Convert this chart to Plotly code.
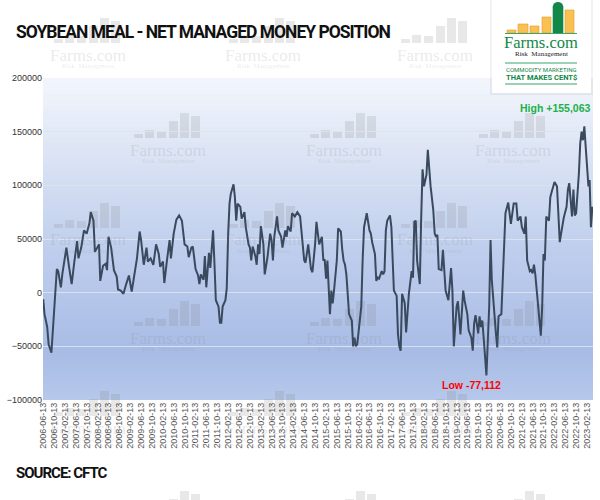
import plotly.graph_objects as go

# --- data ---
report_dates = [
    "2006-06-13", "2006-06-28", "2006-07-28", "2006-08-13", "2006-09-13", "2006-09-28", "2006-10-13",
    "2006-11-13", "2006-11-28", "2006-12-28",
    "2007-01-13", "2007-02-13", "2007-02-28", "2007-03-28", "2007-04-28", "2007-05-28", "2007-06-28",
    "2007-07-13", "2007-08-13", "2007-09-13", "2007-10-13", "2007-11-13", "2007-11-28", "2007-12-28",
    "2008-01-13", "2008-02-28", "2008-03-13", "2008-04-13", "2008-05-13", "2008-05-28", "2008-06-13",
    "2008-07-13", "2008-08-13", "2008-09-13", "2008-09-28", "2008-10-28", "2008-11-28", "2008-12-28",
    "2009-01-28", "2009-02-28", "2009-03-28", "2009-04-28", "2009-05-28", "2009-06-13", "2009-07-13",
    "2009-08-13", "2009-08-28", "2009-09-28", "2009-10-28", "2009-11-28", "2009-12-28",
    "2010-01-13", "2010-02-13", "2010-02-28", "2010-03-28", "2010-04-28", "2010-05-13", "2010-06-13",
    "2010-07-13", "2010-08-13", "2010-09-13", "2010-10-13", "2010-11-13", "2010-11-28", "2010-12-28",
    "2011-01-13", "2011-02-13", "2011-03-13", "2011-03-28", "2011-04-13", "2011-05-13", "2011-05-28",
    "2011-06-13", "2011-07-13", "2011-07-28", "2011-08-28", "2011-09-13", "2011-09-28", "2011-10-28",
    "2011-11-13", "2011-11-28", "2011-12-13",
    "2012-01-13", "2012-01-28", "2012-02-13", "2012-02-28", "2012-03-13", "2012-04-13", "2012-04-28",
    "2012-05-13", "2012-05-28", "2012-06-28", "2012-07-13", "2012-08-13", "2012-08-28", "2012-09-28",
    "2012-10-13", "2012-10-28", "2012-11-13", "2012-12-13", "2012-12-28",
    "2013-01-13", "2013-01-28", "2013-02-13", "2013-03-13", "2013-03-28", "2013-04-28", "2013-05-28",
    "2013-06-13", "2013-06-28", "2013-07-13", "2013-08-13", "2013-08-28", "2013-09-28", "2013-10-13",
    "2013-11-13", "2013-11-28", "2013-12-13",
    "2014-01-13", "2014-01-28", "2014-02-28", "2014-03-28", "2014-04-28", "2014-05-13", "2014-05-28",
    "2014-06-13", "2014-06-28", "2014-07-28", "2014-08-13", "2014-08-28", "2014-09-13", "2014-10-13",
    "2014-10-28", "2014-11-13", "2014-11-28", "2014-12-28",
    "2015-01-13", "2015-01-28", "2015-02-13", "2015-02-28", "2015-03-13", "2015-03-28", "2015-04-13",
    "2015-04-28", "2015-05-13", "2015-06-13", "2015-06-28", "2015-07-28", "2015-08-13", "2015-08-28",
    "2015-09-13", "2015-09-28", "2015-10-13", "2015-10-28", "2015-11-28", "2015-12-13", "2015-12-28",
    "2016-01-13", "2016-01-28", "2016-02-28", "2016-03-13", "2016-03-28", "2016-04-13", "2016-05-13",
    "2016-05-28", "2016-06-13", "2016-06-28", "2016-07-13", "2016-08-13", "2016-08-28", "2016-09-13",
    "2016-09-28", "2016-10-28", "2016-11-13", "2016-11-28", "2016-12-13", "2016-12-28",
    "2017-01-28", "2017-02-13", "2017-02-28", "2017-03-13", "2017-04-13", "2017-04-28", "2017-05-13",
    "2017-05-28", "2017-06-13", "2017-07-13", "2017-07-28", "2017-08-28", "2017-09-28", "2017-10-13",
    "2017-10-28", "2017-11-13", "2017-11-28", "2017-12-28",
    "2018-01-13", "2018-01-28", "2018-02-13", "2018-03-13", "2018-03-28", "2018-04-13", "2018-04-28",
    "2018-05-28", "2018-06-13", "2018-06-28", "2018-07-13", "2018-07-28", "2018-08-28", "2018-09-13",
    "2018-09-28", "2018-10-13", "2018-11-13", "2018-11-28", "2018-12-13", "2018-12-28",
    "2019-01-13", "2019-02-13", "2019-02-28", "2019-03-13", "2019-03-28", "2019-04-28", "2019-05-13",
    "2019-06-13", "2019-06-28", "2019-07-28", "2019-08-13", "2019-08-28", "2019-09-13", "2019-10-13",
    "2019-10-28", "2019-11-13", "2019-11-28", "2019-12-13",
    "2020-01-13", "2020-02-13", "2020-02-28", "2020-03-13", "2020-03-28", "2020-04-28", "2020-05-13",
    "2020-05-28", "2020-06-28", "2020-07-13", "2020-07-28", "2020-08-13", "2020-09-13", "2020-10-13",
    "2020-11-13", "2020-12-13", "2020-12-28",
    "2021-01-28", "2021-02-13", "2021-03-13", "2021-03-28", "2021-04-13", "2021-05-13", "2021-05-28",
    "2021-06-13", "2021-06-28", "2021-07-13", "2021-08-13", "2021-08-28", "2021-09-13", "2021-09-28",
    "2021-10-13", "2021-10-28", "2021-11-13", "2021-12-13", "2021-12-28",
    "2022-01-13", "2022-02-13", "2022-03-13", "2022-03-28", "2022-04-13", "2022-04-28", "2022-05-28",
    "2022-06-28", "2022-07-13", "2022-07-28", "2022-08-28", "2022-09-13", "2022-09-28", "2022-10-13",
    "2022-11-13", "2022-11-28", "2022-12-13", "2022-12-28",
    "2023-01-13", "2023-01-28", "2023-02-28", "2023-03-13", "2023-03-28", "2023-04-13",
]

net_position = [
    -6000, -20000, -32000, -48000, -56000, -38000, -20000,
    22000, 20000, 5000,
    17000, 37000, 42000, 25000, 8000, 29000, 48000,
    32000, 42000, 58000, 55000, 65000, 75000, 67000,
    38000, 45000, 11000, 25000, 27000, 21000, 52000,
    42000, 21000, 15000, 3000, 2000, -1000, 8000,
    16000, 1000, 16000, 32000, 57000, 49000, 26000,
    42000, 29000, 32000, 26000, 45000, 36000,
    24000, 29000, 9000, 29000, 49000, 32000, 55000,
    68000, 72000, 67000, 45000, 43000, 33000, 42000,
    43000, 22000, 16000, 8000, 17000, 12000, 34000,
    5000, 37000, 23000, 58000, 26000, -7000, -13000,
    -28000, -28000, -13000,
    -7000, 4000, 55000, 83000, 92000, 101000, 89000,
    67000, 83000, 80000, 69000, 75000, 61000, 45000,
    42000, 30000, 43000, 34000, 26000,
    45000, 36000, 62000, 45000, 17000, 33000, 55000,
    49000, 30000, 52000, 71000, 58000, 52000, 42000,
    58000, 52000, 62000,
    57000, 74000, 71000, 75000, 71000, 58000, 42000,
    30000, 28000, 45000, 33000, 22000, 19000, 45000,
    66000, 55000, 45000, 52000,
    30000, 31000, 13000, 30000, 8000, -20000, 2000,
    -10000, 2000, 30000, 60000, 57000, 40000, 30000,
    26000, 17000, -1000, -20000, -26000, -50000, -42000,
    -50000, -48000, -24000, -13000, 30000, 61000, 74000,
    64000, 58000, 55000, 47000, 36000, 11000, 14000,
    13000, 20000, 17000, 20000, 58000, 67000,
    72000, 61000, 33000, 2000, -3000, -39000, -50000,
    -54000, -1000, -10000, -37000, -1000, 20000, 14000,
    66000, 67000, 30000, 8000,
    71000, 115000, 99000, 110000, 133000, 115000, 99000,
    77000, 55000, 52000, 54000, 22000, 21000, 40000,
    22000, 2000, -7000, 5000, 23000, 2000,
    -50000, -13000, -8000, -22000, -39000, 2000, -7000,
    -20000, -35000, -42000, -54000, -29000, -21000, -38000,
    -22000, -32000, -26000, -42000,
    -77112, -13000, 49000, 12000, -7000, -38000, -51000,
    -22000, -20000, 12000, 55000, 74000, 84000, 64000,
    83000, 83000, 67000,
    71000, 61000, 55000, 71000, 30000, 20000, 21000,
    18000, 26000, 17000, -13000, -22000, -40000, -13000,
    36000, 30000, 71000, 67000, 89000,
    94000, 103000, 99000, 71000, 47000, 55000, 70000,
    80000, 96000, 102000, 71000, 96000, 72000, 74000,
    111000, 139000, 150000, 142000,
    155063, 136000, 99000, 105000, 61000, 80000,
]

y_ticks = [-100000, -50000, 0, 50000, 100000, 150000, 200000]
high_label = "High +155,063"
low_label = "Low -77,112"

# --- page geometry (pixels) ---
W, H = 600, 500
L, R, T, B = 43, 7, 78, 100


def px_x(px):
    return (px - L) / (W - L - R)


def px_y(py):
    return (H - B - py) / (H - T - B)


def label(px, py, text, font, xanchor="center"):
    return dict(xref="paper", yref="paper", x=px_x(px), y=px_y(py), text=text, showarrow=False,
                xanchor=xanchor, yanchor="middle", font=font)


shapes = []
annotations = []

# plot background gradient, light at the top and blue lower down
grad_stops = [(0.0, (182, 199, 234)), (0.15, (168, 188, 229)), (0.45, (190, 205, 237)),
              (0.75, (218, 227, 244)), (1.0, (243, 246, 252))]


def grad_color(f):
    for (f0, c0), (f1, c1) in zip(grad_stops[:-1], grad_stops[1:]):
        if f <= f1:
            t = (f - f0) / (f1 - f0)
            return "rgb(%d,%d,%d)" % tuple(round(a + (b - a) * t) for a, b in zip(c0, c1))
    return "rgb(%d,%d,%d)" % grad_stops[-1][1]


n_strips = 80
for i in range(n_strips):
    shapes.append(dict(type="rect", xref="x domain", yref="y domain", layer="below",
                       x0=0, x1=1, y0=i / n_strips, y1=min(1, (i + 1.3) / n_strips),
                       fillcolor=grad_color((i + 0.5) / n_strips), line_width=0))

# faint Farms.com watermarks
wm_color = "rgba(130,130,130,0.18)"
wm_bars = [(-34, -25, 4), (-23, -14, 8), (-11, -2, 7), (1, 10, 17), (12, 21, 25), (23, 32, 22)]
wm_spots = [(88, 55), (263, 55), (435, 55), (168, 150), (344, 150), (513, 150),
            (88, 240), (263, 240), (435, 240), (168, 338), (344, 338), (513, 338),
            (88, 428), (263, 428), (435, 428), (168, 528), (344, 528), (513, 528)]
for cx, ty in wm_spots:
    base = ty - 12
    for a, b, h in wm_bars:
        shapes.append(dict(type="rect", xref="paper", yref="paper", layer="below",
                           x0=px_x(cx + a), x1=px_x(cx + b), y0=px_y(base), y1=px_y(base - h),
                           fillcolor=wm_color, line_width=0))
    if ty < H:
        annotations.append(label(cx, ty, "Farms.com",
                                 dict(family="Liberation Serif", size=17, color=wm_color)))
        annotations.append(label(cx, ty + 11, "Risk  Management",
                                 dict(family="Liberation Serif", size=7, color=wm_color)))

# logo box (top right)
green = "#12874a"
yellow = "#f9c152"
shapes.append(dict(type="rect", xref="paper", yref="paper", layer="above",
                   x0=px_x(490), x1=px_x(593), y0=px_y(0), y1=px_y(95),
                   fillcolor="rgba(0,0,0,0.05)", line_width=0))
shapes.append(dict(type="rect", xref="paper", yref="paper", layer="above",
                   x0=px_x(492), x1=px_x(591), y0=px_y(0), y1=px_y(93),
                   fillcolor="white", line_width=0))
logo_bars = [(507, 516, 30, yellow), (518, 528, 24, yellow), (530, 539, 26, yellow),
             (542, 551, 17, yellow), (553, 563, 6, green), (565, 574, 10, yellow)]
for x0, x1, top, col in logo_bars:
    shapes.append(dict(type="rect", xref="paper", yref="paper", layer="above",
                       x0=px_x(x0), x1=px_x(x1), y0=px_y(33), y1=px_y(top),
                       fillcolor=col, line=dict(color="#e0a030" if col == yellow else green, width=0.6)))
shapes.append(dict(type="circle", xref="paper", yref="paper", layer="above",
                   x0=px_x(553), x1=px_x(563), y0=px_y(10), y1=px_y(2), fillcolor=green, line_width=0))
for ly in (33.5, 63, 84):
    shapes.append(dict(type="line", xref="paper", yref="paper", layer="above",
                       x0=px_x(505), x1=px_x(577), y0=px_y(ly), y1=px_y(ly),
                       line=dict(color="#3aa56a", width=1.2)))
annotations += [
    label(541, 43, "Farms.com", dict(family="Liberation Serif", size=16.5, color=green)),
    label(541, 54, "Risk  Management", dict(family="Liberation Serif", size=7, color="#222")),
    label(541, 70, "COMMODITY MARKETING", dict(family="Roboto", size=6, color=green)),
    label(541, 77.5, "<b>THAT MAKES CENT$</b>", dict(family="Roboto", size=7.5, color=green)),
]

# titles and labels
tight = '<span style="letter-spacing:-1px">%s</span>'
annotations += [
    label(14, 32, "<b>" + tight % "SOYBEAN MEAL - NET MANAGED MONEY POSITION" + "</b>",
          dict(family="Roboto", size=17.5, color="#111"), xanchor="left"),
    label(14, 473, "<b>" + tight % "SOURCE: CFTC" + "</b>",
          dict(family="Roboto", size=15, color="#111"), xanchor="left"),
    label(555, 108, "<b>" + high_label + "</b>", dict(family="Liberation Sans", size=10.5, color="#21b04b")),
    label(471, 385, "<b>" + low_label + "</b>", dict(family="Liberation Sans", size=10.5, color="#ff0000")),
]

fig = go.Figure()
fig.add_trace(go.Scatter(x=report_dates, y=net_position, mode="lines",
                         line=dict(color="#3a4a5e", width=2), hoverinfo="x+y"))

fig.update_layout(
    width=W, height=H,
    margin=dict(l=L, r=R, t=T, b=B),
    paper_bgcolor="white",
    plot_bgcolor="rgba(0,0,0,0)",
    showlegend=False,
    shapes=shapes,
    annotations=annotations,
    xaxis=dict(type="date", range=["2006-06-11", "2023-04-20"], tick0="2006-06-13", dtick="M4",
               tickformat="%Y-%m-%d", tickangle=-90, showgrid=False, zeroline=False, ticks="",
               tickfont=dict(family="Liberation Sans", size=9, color="#555")),
    yaxis=dict(range=[-100000, 200000], tickvals=y_ticks, tickformat="d", ticks="",
               gridcolor="rgba(222,227,237,0.9)", gridwidth=1, zeroline=False,
               tickfont=dict(family="Liberation Sans", size=9, color="#333")),
)

# the page's default 8px body margin would push the figure off the window
fig.write_html("out.html", config={"displayModeBar": False},
               post_script="document.body.style.margin='0';")
